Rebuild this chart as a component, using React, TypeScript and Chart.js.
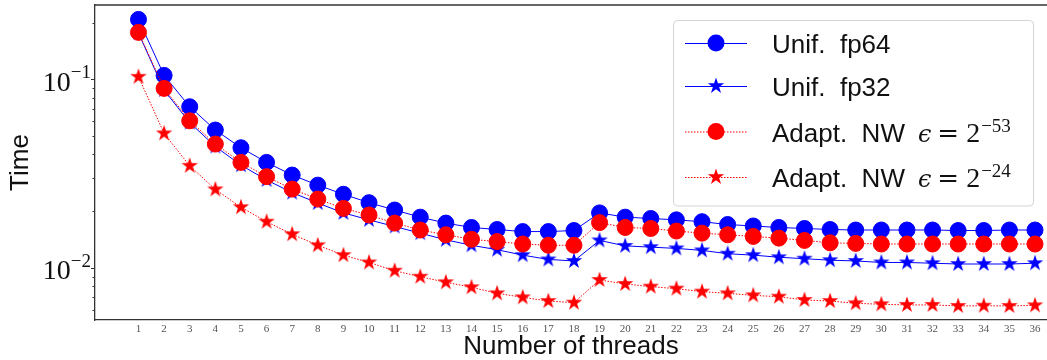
import React, { useEffect, useRef } from "react";
import { Chart, registerables } from "chart.js";
Chart.register(...registerables);

const threads = [1, 2, 3, 4, 5, 6, 7, 8, 9, 10, 11, 12, 13, 14, 15, 16, 17, 18, 19, 20, 21, 22, 23, 24, 25, 26, 27, 28, 29, 30, 31, 32, 33, 34, 35, 36];
const unifFp64 = [0.208, 0.105, 0.0716, 0.0539, 0.0434, 0.0363, 0.0311, 0.0275, 0.0246, 0.0222, 0.0203, 0.0186, 0.0173, 0.0164, 0.016, 0.0156, 0.0156, 0.0158, 0.0196, 0.0186, 0.0183, 0.018, 0.0176, 0.017, 0.0167, 0.0164, 0.0162, 0.016, 0.0159, 0.0159, 0.0159, 0.0159, 0.0158, 0.0158, 0.0159, 0.0159];
const unifFp32 = [0.176, 0.0878, 0.059, 0.0441, 0.0351, 0.0293, 0.0251, 0.0221, 0.0196, 0.018, 0.0166, 0.0153, 0.0141, 0.0132, 0.0125, 0.0117, 0.0111, 0.0109, 0.014, 0.0131, 0.0129, 0.0127, 0.0124, 0.0119, 0.0117, 0.0114, 0.0112, 0.011, 0.0109, 0.0107, 0.0107, 0.0106, 0.0105, 0.0105, 0.0105, 0.0106];
const adaptNW53 = [0.1775, 0.0896, 0.0603, 0.0454, 0.0363, 0.0305, 0.0262, 0.0232, 0.0207, 0.0191, 0.0173, 0.0159, 0.015, 0.0142, 0.0138, 0.0134, 0.0132, 0.0132, 0.0174, 0.0164, 0.0162, 0.0157, 0.0153, 0.015, 0.0147, 0.0144, 0.014, 0.0136, 0.0135, 0.0134, 0.0134, 0.0134, 0.0134, 0.0134, 0.0134, 0.0134];
const adaptNW24 = [0.1032, 0.0517, 0.0348, 0.0261, 0.021, 0.0176, 0.0151, 0.0132, 0.0117, 0.0107, 0.00967, 0.00899, 0.0084, 0.0079, 0.00734, 0.00699, 0.00668, 0.00655, 0.00864, 0.00823, 0.00796, 0.00777, 0.00749, 0.00734, 0.00716, 0.00704, 0.00677, 0.00668, 0.0065, 0.00642, 0.00637, 0.00637, 0.00629, 0.00631, 0.00629, 0.00634];

const yTickExponents = [-1, -2];
const seriesNames = ["Unif.  fp64", "Unif.  fp32", "Adapt.  NW", "Adapt.  NW"];
const seriesEpsExp = ["", "", "\u221253", "\u221224"];
const xTitle = "Number of threads";
const yTitle = "Time";

const BLUE = "#0000ff";
const RED = "#ff0000";

function starPath(g: CanvasRenderingContext2D, cx: number, cy: number, R: number) {
  const r = R * 0.381966;
  g.beginPath();
  for (let i = 0; i < 10; i++) {
    const rad = i % 2 === 0 ? R : r;
    const a = -Math.PI / 2 + (i * Math.PI) / 5;
    const x = cx + rad * Math.cos(a);
    const y = cy + rad * Math.sin(a);
    if (i === 0) g.moveTo(x, y);
    else g.lineTo(x, y);
  }
  g.closePath();
}

function makeStar(color: string) {
  const c = document.createElement("canvas");
  c.width = 20;
  c.height = 20;
  const g = c.getContext("2d")!;
  starPath(g, 10, 10, 8.6);
  g.fillStyle = color;
  g.fill();
  return c;
}

export default function App() {
  const ref = useRef<HTMLCanvasElement | null>(null);

  useEffect(() => {
    document.body.style.margin = "0";
    const canvas = ref.current!;
    const blueStar = makeStar(BLUE);
    const redStar = makeStar(RED);
    const toPts = (vals: number[]) => threads.map((t, i) => ({ x: t, y: vals[i] }));

    const decor = {
      id: "decor",
      afterDraw(chart: any) {
        const ctx = chart.ctx as CanvasRenderingContext2D;
        const area = chart.chartArea;
        const ys = chart.scales.y;
        ctx.save();
        // top spine
        ctx.strokeStyle = "#333";
        ctx.lineWidth = 1.3;
        ctx.beginPath();
        ctx.moveTo(area.left, area.top);
        ctx.lineTo(chart.width, area.top);
        ctx.stroke();
        // y ticks
        ctx.lineWidth = 1;
        for (let e = -3; e <= -1; e++) {
          for (let m = 1; m <= 9; m++) {
            const v = m * Math.pow(10, e);
            if (v < ys.min || v > ys.max) continue;
            const py = Math.round(ys.getPixelForValue(v)) + 0.5;
            const len = m === 1 ? 4 : 2.5;
            ctx.beginPath();
            ctx.moveTo(area.left - len, py);
            ctx.lineTo(area.left, py);
            ctx.stroke();
          }
        }
        // y tick labels
        ctx.fillStyle = "#111";
        ctx.textAlign = "right";
        ctx.textBaseline = "alphabetic";
        for (const e of yTickExponents) {
          const py = ys.getPixelForValue(Math.pow(10, e));
          const right = 91;
          const expTxt = "\u2212" + String(-e);
          ctx.font = '19px "Liberation Serif"';
          const ew = ctx.measureText(expTxt).width;
          ctx.fillText(expTxt, right, py - 1);
          ctx.font = '28px "Liberation Serif"';
          ctx.fillText("10", right - ew, py + 11.5);
        }
        // legend
        const lx = 673.5, ly = 20.5, lw = 360, lh = 185.5, rr = 4;
        ctx.beginPath();
        ctx.moveTo(lx + rr, ly);
        ctx.lineTo(lx + lw - rr, ly);
        ctx.quadraticCurveTo(lx + lw, ly, lx + lw, ly + rr);
        ctx.lineTo(lx + lw, ly + lh - rr);
        ctx.quadraticCurveTo(lx + lw, ly + lh, lx + lw - rr, ly + lh);
        ctx.lineTo(lx + rr, ly + lh);
        ctx.quadraticCurveTo(lx, ly + lh, lx, ly + lh - rr);
        ctx.lineTo(lx, ly + rr);
        ctx.quadraticCurveTo(lx, ly, lx + rr, ly);
        ctx.closePath();
        ctx.fillStyle = "rgba(255,255,255,0.85)";
        ctx.fill();
        ctx.strokeStyle = "#d4d4d4";
        ctx.lineWidth = 1;
        ctx.stroke();

        const rows = [43, 86, 131.5, 177];
        const colors = [BLUE, BLUE, RED, RED];
        const dashed = [false, false, true, true];
        const stars = [false, true, false, true];
        chart.data.datasets.forEach((ds: any, i: number) => {
          const y = rows[i];
          ctx.strokeStyle = colors[i];
          ctx.lineWidth = 1;
          ctx.setLineDash(dashed[i] ? [1.5, 1.5] : []);
          ctx.beginPath();
          ctx.moveTo(685, y + 0.5);
          ctx.lineTo(747, y + 0.5);
          ctx.stroke();
          ctx.setLineDash([]);
          ctx.fillStyle = colors[i];
          if (stars[i]) {
            starPath(ctx, 716, y, 8.6);
            ctx.fill();
          } else {
            ctx.beginPath();
            ctx.arc(716, y, 8.5, 0, Math.PI * 2);
            ctx.fill();
          }
          ctx.fillStyle = "#111";
          ctx.textAlign = "left";
          ctx.font = '26px "Liberation Sans"';
          const name = seriesNames[i];
          ctx.fillText(name, 772, y + 10);
          const expo = seriesEpsExp[i];
          if (expo) {
            let x = 772 + ctx.measureText(name).width + 13;
            ctx.font = 'italic 24px "DejaVu Serif"';
            ctx.fillText("\u03f5", x, y + 10);
            x += ctx.measureText("\u03f5").width + 6;
            ctx.font = '26px "DejaVu Serif"';
            ctx.fillText("=", x, y + 10);
            x += ctx.measureText("=").width + 7;
            ctx.font = '28px "Liberation Serif"';
            ctx.fillText("2", x, y + 10);
            x += ctx.measureText("2").width + 1;
            ctx.font = '19px "Liberation Serif"';
            ctx.fillText(expo, x, y);
          }
        });
        ctx.restore();
      },
    };

    const chart = new Chart(canvas, {
      type: "line",
      data: {
        datasets: [
          {
            label: "Unif. fp64",
            data: toPts(unifFp64),
            borderColor: BLUE,
            backgroundColor: BLUE,
            borderWidth: 1,
            pointStyle: "circle",
            pointRadius: 8,
            pointBorderWidth: 1,
            pointBackgroundColor: BLUE,
            pointBorderColor: BLUE,
            order: 4,
          },
          {
            label: "Unif. fp32",
            data: toPts(unifFp32),
            borderColor: BLUE,
            backgroundColor: BLUE,
            borderWidth: 1,
            pointStyle: blueStar as any,
            pointRadius: 9,
            order: 3,
          },
          {
            label: "Adapt. NW \u03f5 = 2^-53",
            data: toPts(adaptNW53),
            borderColor: RED,
            backgroundColor: RED,
            borderWidth: 1,
            borderDash: [1.5, 1.5],
            pointStyle: "circle",
            pointRadius: 8,
            pointBorderWidth: 1,
            pointBackgroundColor: RED,
            pointBorderColor: RED,
            order: 2,
          },
          {
            label: "Adapt. NW \u03f5 = 2^-24",
            data: toPts(adaptNW24),
            borderColor: RED,
            backgroundColor: RED,
            borderWidth: 1,
            borderDash: [1.5, 1.5],
            pointStyle: redStar as any,
            pointRadius: 9,
            order: 1,
          },
        ],
      },
      options: {
        animation: false,
        responsive: false,
        devicePixelRatio: 1,
        layout: { autoPadding: false, padding: { top: 5, left: 0, right: 0, bottom: 0 } },
        plugins: { legend: { display: false }, tooltip: { enabled: false } },
        scales: {
          x: {
            type: "linear",
            min: -0.698,
            max: 36.468,
            grid: { display: false, drawTicks: false },
            border: { display: true, color: "#333", width: 1.3 },
            afterBuildTicks: (s: any) => {
              s.ticks = threads.map((v) => ({ value: v }));
            },
            afterFit: (s: any) => {
              s.height = 40;
            },
            ticks: {
              autoSkip: false,
              maxRotation: 0,
              padding: 3,
              color: "#555",
              font: { family: "Liberation Serif", size: 11 },
              callback: (v: any) => String(v),
            },
            title: {
              display: true,
              text: xTitle,
              color: "#111",
              font: { family: "Liberation Sans", size: 26, lineHeight: 1 },
              padding: 0,
            },
          },
          y: {
            type: "logarithmic",
            min: 0.0053,
            max: 0.248,
            grid: { display: false, drawTicks: false },
            border: { display: true, color: "#333", width: 1.3 },
            ticks: { display: false },
            afterFit: (s: any) => {
              s.width = 95;
            },
            title: {
              display: true,
              text: yTitle,
              color: "#111",
              font: { family: "Liberation Sans", size: 26, lineHeight: 1 },
              padding: { top: 8, bottom: 0 },
            },
          },
        },
      },
      plugins: [decor],
    });
    return () => chart.destroy();
  }, []);

  return (
    <div style={{ position: "absolute", left: 0, top: 0, width: 1047, height: 360, background: "#fff" }}>
      <canvas ref={ref} width={1047} height={360} style={{ width: 1047, height: 360, display: "block" }} />
    </div>
  );
}
